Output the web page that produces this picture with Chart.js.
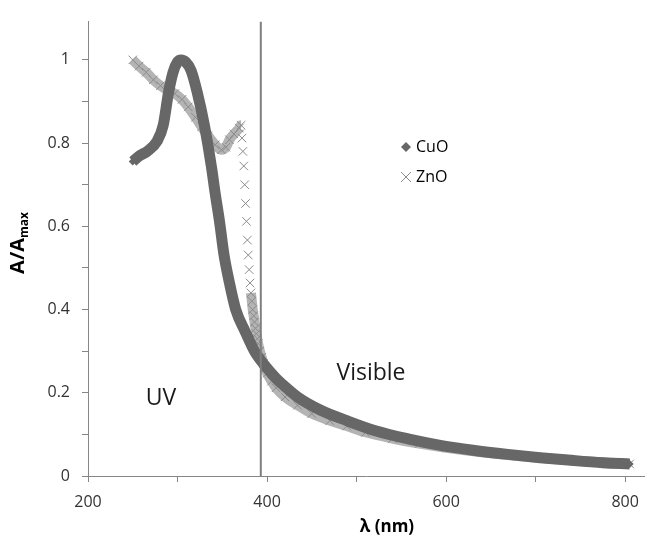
<!DOCTYPE html>
<html>
<head>
<meta charset="utf-8">
<script src="https://cdn.jsdelivr.net/npm/chart.js@4.4.1/dist/chart.umd.min.js"></script>
<style>
  body { margin: 0; background: #fff; }
</style>
</head>
<body>
<canvas id="myChart" width="651" height="536"></canvas>
<script>
// CuO spectrum (nm, A/Amax)
const cuoWave = [250, 258, 266, 277, 284, 290, 295, 300, 304, 309, 315, 322, 330, 338, 342, 347, 352, 358, 365, 376,
  386, 397, 410, 420, 434, 460, 489, 522, 560, 595, 630, 669, 705, 743, 775, 805];
const cuoAbs = [0.756, 0.77, 0.78, 0.804, 0.843, 0.922, 0.97, 0.995, 1.0, 0.995, 0.975, 0.922, 0.843, 0.741, 0.68, 0.61, 0.53, 0.464, 0.40, 0.345,
  0.30, 0.267, 0.235, 0.215, 0.19, 0.158, 0.133, 0.108, 0.088, 0.073, 0.062, 0.052, 0.044, 0.037, 0.032, 0.029];

// ZnO spectrum
const znoWave = [250, 257, 265, 273, 281, 289, 297, 305, 312, 320, 327, 334, 342, 349, 354, 358, 363, 369, 371, 372,
  373, 374, 375, 376, 377, 378, 379, 380, 381, 382, 383, 384, 385, 386, 387, 388, 389, 390, 392, 394,
  396, 398, 400, 405, 410, 420, 434, 450, 470, 489, 510, 540, 570, 600, 640, 680, 720, 760, 805];
const znoAbs = [1.0, 0.985, 0.97, 0.952, 0.938, 0.927, 0.919, 0.905, 0.887, 0.862, 0.839, 0.818, 0.796, 0.784, 0.79, 0.808, 0.822, 0.836, 0.843, 0.812,
  0.780, 0.745, 0.70, 0.655, 0.612, 0.567, 0.531, 0.496, 0.464, 0.44, 0.42, 0.40, 0.385, 0.37, 0.355, 0.342, 0.33, 0.318, 0.30, 0.285,
  0.27, 0.258, 0.247, 0.228, 0.212, 0.19, 0.17, 0.15, 0.133, 0.12, 0.105, 0.09, 0.078, 0.068, 0.057, 0.048, 0.041, 0.035, 0.029];

// UV / visible boundary
const visibleEdge = 393;

const xMin = 200;
const xMax = 821;
const yMax = 1.092;
const xTicks = [200, 300, 400, 500, 600, 700, 800];
const yTicks = [0, 0.1, 0.2, 0.3, 0.4, 0.5, 0.6, 0.7, 0.8, 0.9, 1.0];

const FONT = "'Open Sans', 'DejaVu Sans', sans-serif";
const AXIS_COLOR = '#868686';
const CUO_COLOR = '#676767';
const ZNO_BAND = 'rgba(155,155,155,0.75)';
const ZNO_MARK = '#8a8a8a';

function toPoints(xs, ys) {
  let pts = [];
  for (let i = 0; i < xs.length; i++) pts.push({ x: xs[i], y: ys[i] });
  return pts;
}

// legend, region labels and axis titles
const labelPlugin = {
  id: 'labelPlugin',
  afterDraw(chart) {
    const ctx = chart.ctx;
    ctx.save();

    // legend
    ctx.fillStyle = CUO_COLOR;
    ctx.beginPath();
    ctx.moveTo(406, 142); ctx.lineTo(411, 147); ctx.lineTo(406, 152); ctx.lineTo(401, 147);
    ctx.closePath();
    ctx.fill();
    ctx.strokeStyle = ZNO_MARK;
    ctx.lineWidth = 1;
    ctx.beginPath();
    ctx.moveTo(401, 172); ctx.lineTo(411, 182);
    ctx.moveTo(411, 172); ctx.lineTo(401, 182);
    ctx.stroke();

    ctx.fillStyle = '#000';
    ctx.font = `16px ${FONT}`;
    ctx.textBaseline = 'middle';
    ctx.textAlign = 'left';
    ctx.fillText('CuO', 416, 147);
    ctx.fillText('ZnO', 416, 177);

    // region labels
    ctx.fillStyle = '#1a1a1a';
    ctx.font = `23px ${FONT}`;
    ctx.textAlign = 'center';
    ctx.fillText('UV', 161, 398);
    ctx.fillText('Visible', 371, 373);

    // x title
    ctx.fillStyle = '#000';
    ctx.font = `bold 17px ${FONT}`;
    ctx.fillText('λ (nm)', 387, 527);

    // y title with subscript
    ctx.translate(24, 243);
    ctx.rotate(-Math.PI / 2);
    ctx.textAlign = 'left';
    ctx.textBaseline = 'alphabetic';
    ctx.font = `bold 20px ${FONT}`;
    const main = 'A/A';
    const wMain = ctx.measureText(main).width;
    ctx.font = `bold 12px ${FONT}`;
    const wSub = ctx.measureText('max').width;
    const start = -(wMain + wSub) / 2;
    ctx.font = `bold 20px ${FONT}`;
    ctx.fillText(main, start, 0);
    ctx.font = `bold 12px ${FONT}`;
    ctx.fillText('max', start + wMain, 4);

    ctx.restore();
  }
};

const ctx = document.getElementById('myChart');
new Chart(ctx, {
  type: 'scatter',
  data: {
    datasets: [{
      label: 'edge',
      data: [{ x: visibleEdge, y: 0 }, { x: visibleEdge, y: yMax }],
      showLine: true,
      borderColor: '#7f7f7f',
      borderWidth: 2,
      pointRadius: 0,
      order: -1
    }, {
      label: 'CuO',
      data: toPoints(cuoWave, cuoAbs),
      showLine: true,
      cubicInterpolationMode: 'monotone',
      borderColor: CUO_COLOR,
      borderWidth: 11,
      pointStyle: 'rectRot',
      pointRadius: 4,
      pointBackgroundColor: CUO_COLOR,
      pointBorderWidth: 0,
      order: 1
    }, {
      label: 'ZnO',
      data: toPoints(znoWave, znoAbs),
      showLine: true,
      cubicInterpolationMode: 'monotone',
      borderColor: ZNO_BAND,
      borderWidth: 10,
      segment: {
        // steep part of the ZnO edge shows single crosses, no band
        borderColor: c => {
          const dx = c.p1.parsed.x - c.p0.parsed.x;
          const dy = Math.abs(c.p1.parsed.y - c.p0.parsed.y);
          return dy / dx > 0.022 ? 'rgba(0,0,0,0)' : ZNO_BAND;
        }
      },
      pointStyle: 'crossRot',
      pointRadius: 6,
      pointBorderColor: ZNO_MARK,
      pointBorderWidth: 1,
      order: 2
    }]
  },
  options: {
    responsive: false,
    animation: false,
    devicePixelRatio: 1,
    layout: { padding: { top: 15, right: 0, left: 0, bottom: 0 } },
    plugins: { legend: { display: false }, tooltip: { enabled: false } },
    scales: {
      x: {
        type: 'linear',
        min: xMin,
        max: xMax,
        afterBuildTicks: s => { s.ticks = xTicks.map(v => ({ value: v })); },
        afterFit: s => { s.height = 60; },
        ticks: {
          callback: v => (v % 200 === 0 ? String(v) : ''),
          font: { family: FONT, size: 16 },
          color: '#333',
          padding: 11,
          maxRotation: 0,
          autoSkip: false
        },
        grid: { drawOnChartArea: false, tickLength: 6, color: AXIS_COLOR },
        border: { color: AXIS_COLOR }
      },
      y: {
        min: 0,
        max: yMax,
        afterBuildTicks: s => { s.ticks = yTicks.map(v => ({ value: v })); },
        afterFit: s => { s.width = 88; },
        ticks: {
          callback: v => (Math.round(v * 10) % 2 === 0 ? String(Math.round(v * 10) / 10) : ''),
          font: { family: FONT, size: 16 },
          color: '#333',
          padding: 12,
          autoSkip: false
        },
        grid: { drawOnChartArea: false, tickLength: 6, color: AXIS_COLOR },
        border: { color: AXIS_COLOR }
      }
    }
  },
  plugins: [labelPlugin]
});
</script>
</body>
</html>
